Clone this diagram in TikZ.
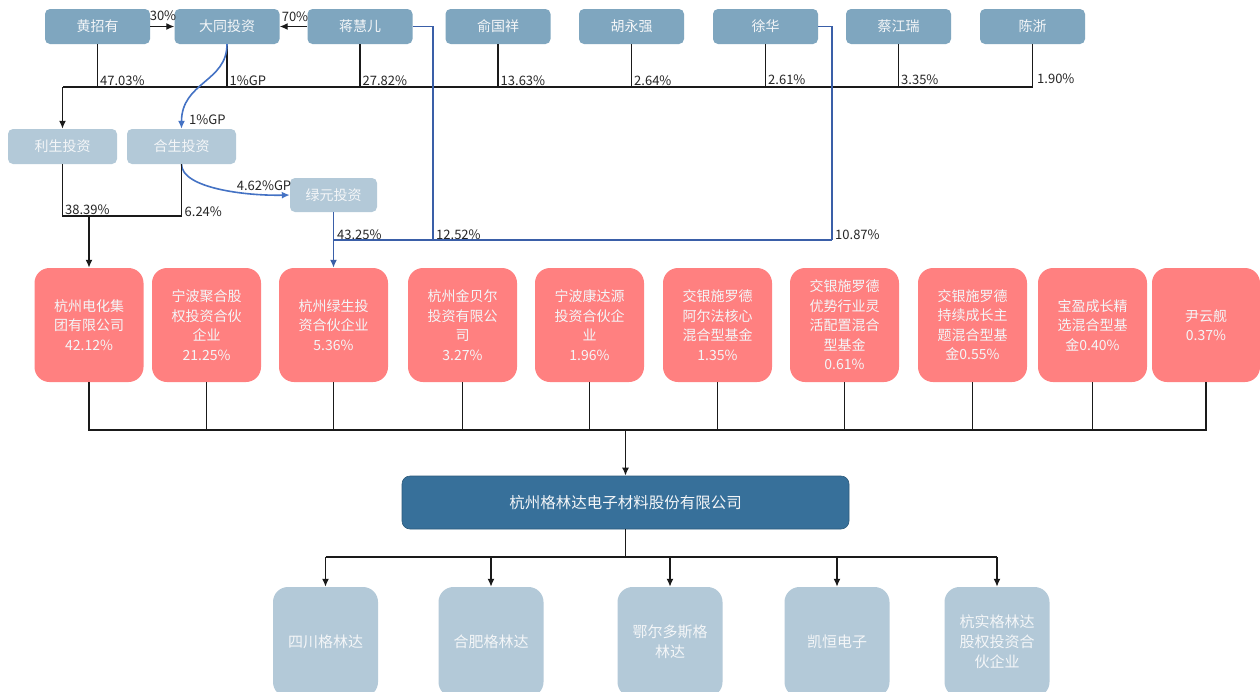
\documentclass[tikz,border=0pt]{standalone}
\usepackage{fontspec}
\setmainfont{Noto Sans CJK SC}
\usetikzlibrary{arrows.meta}
\definecolor{topbox}{HTML}{7FA6BF}
\definecolor{lightbox}{HTML}{B3C9D8}
\definecolor{redbox}{HTML}{FF8080}
\definecolor{mainbox}{HTML}{37709A}
\definecolor{arcblue}{HTML}{4472C4}
\definecolor{lineblue}{HTML}{3A5FA8}
\definecolor{linek}{HTML}{1A1A1A}
\definecolor{txtw}{HTML}{F4F6F8}
\tikzset{
  topnode/.style={draw=none,fill=topbox,rounded corners=5pt,minimum width=105pt,minimum height=35pt,inner sep=0pt,text=txtw,font=\fontsize{14}{16}\selectfont},
  secnode/.style={draw=none,fill=lightbox,rounded corners=5pt,minimum width=109pt,minimum height=35pt,inner sep=0pt,text=txtw,font=\fontsize{14}{16}\selectfont},
  rednode/.style={draw=none,fill=redbox,rounded corners=15pt,minimum width=109pt,minimum height=114pt,inner sep=0pt,text=txtw,align=center,font=\fontsize{14}{19.5}\selectfont},
  mainnode/.style={draw=mainbox!80!black,line width=0.6pt,fill=mainbox,rounded corners=8pt,minimum width=447pt,minimum height=53pt,inner sep=0pt,text=txtw,font=\fontsize{15.5}{18}\selectfont},
  subnode/.style={draw=none,fill=lightbox,rounded corners=15pt,minimum width=105pt,minimum height=110pt,inner sep=0pt,text=txtw,align=center,font=\fontsize{15}{20}\selectfont},
  kline/.style={draw=linek,line width=1.7pt},
  karrow/.style={kline,-{Latex[length=8pt,width=7pt]}},
  bline/.style={draw=lineblue,line width=1.4pt},
  barrow/.style={draw=arcblue,line width=1.6pt,-{Latex[length=8pt,width=7pt]}},
  pct/.style={inner sep=0pt,text=black!85,font=\fontsize{13}{14}\selectfont},
}
\begin{document}
\begin{tikzpicture}[x=1pt,y=-1pt]
\clip (0,0) rectangle (1260,691);
\fill[white] (0,0) rectangle (1260,691);
% top row
\node[topnode] (hzy) at (97.5,26.5) {黄招有};
\node[topnode] (dt) at (227,26.5) {大同投资};
\node[topnode] (jhe) at (360,26.5) {蒋慧儿};
\node[topnode] (ygx) at (498,26.5) {俞国祥};
\node[topnode] (hyq) at (631.5,26.5) {胡永强};
\node[topnode] (xh) at (765.5,26.5) {徐华};
\node[topnode] (cjr) at (898.5,26.5) {蔡江瑞};
\node[topnode] (cz) at (1032.5,26.5) {陈浙};
% second row
\node[secnode] (ls) at (62.5,146.5) {利生投资};
\node[secnode] (hs) at (181.5,146.5) {合生投资};
\node[secnode,minimum width=87pt,minimum height=34pt] (ly) at (333.5,195) {绿元投资};
% red row
\node[rednode] (r1) at (89,325) {杭州电化集\\团有限公司\\42.12\%};
\node[rednode] (r2) at (206.5,325) {宁波聚合股\\权投资合伙\\企业\\21.25\%};
\node[rednode] (r3) at (333.5,325) {杭州绿生投\\资合伙企业\\5.36\%};
\node[rednode] (r4) at (462.5,325) {杭州金贝尔\\投资有限公\\司\\3.27\%};
\node[rednode] (r5) at (589.5,325) {宁波康达源\\投资合伙企\\业\\1.96\%};
\node[rednode] (r6) at (717.5,325) {交银施罗德\\阿尔法核心\\混合型基金\\1.35\%};
\node[rednode] (r7) at (844.5,325) {交银施罗德\\优势行业灵\\活配置混合\\型基金\\0.61\%};
\node[rednode] (r8) at (972.5,325) {交银施罗德\\持续成长主\\题混合型基\\金0.55\%};
\node[rednode] (r9) at (1092.5,325) {宝盈成长精\\选混合型基\\金0.40\%};
\node[rednode,minimum width=108pt] (r10) at (1206,325) {尹云舰\\0.37\%};
% main company
\node[mainnode] (gld) at (625.5,502.5) {杭州格林达电子材料股份有限公司};
% subsidiaries
\node[subnode] (s1) at (325.5,642) {四川格林达};
\node[subnode] (s2) at (491,642) {合肥格林达};
\node[subnode] (s3) at (670,642) {鄂尔多斯格\\林达};
\node[subnode] (s4) at (837,642) {凯恒电子};
\node[subnode] (s5) at (997,642) {杭实格林达\\股权投资合\\伙企业};

% coordinates
\coordinate (busL) at (62.5,87);
\coordinate (j1) at (89,216);
\coordinate (b1) at (433,240);
\coordinate (b2) at (832,240);
\coordinate (b0) at (333.5,240);
\coordinate (rbus) at (625.5,430);
\coordinate (sbus) at (625.5,557);

% top arrows
\draw[karrow,line width=1.3pt] (hzy.east) -- (dt.west);
\draw[karrow,line width=1.3pt] (jhe.west) -- (dt.east);
\node[pct,anchor=south] at (163,21) {30\%};
\node[pct,anchor=south] at (295,22) {70\%};

% shareholder bus
\draw[kline] (cz.south) |- (busL);
\foreach \n in {hzy,dt,jhe,ygx,hyq,xh,cjr}{\draw[kline] (\n.south) -- (\n.south |- busL);}
\draw[karrow] (busL) -- (ls.north);
\node[pct,anchor=south west] at (100,86) {47.03\%};
\node[pct,anchor=south west] at (229.5,86) {1\%GP};
\node[pct,anchor=south west] at (362.5,86) {27.82\%};
\node[pct,anchor=south west] at (500.5,86) {13.63\%};
\node[pct,anchor=south west] at (634,86) {2.64\%};
\node[pct,anchor=south west] at (768,85) {2.61\%};
\node[pct,anchor=south west] at (901,85) {3.35\%};
\node[pct,anchor=west] at (1037,79) {1.90\%};

% blue curves
\draw[barrow] (dt.south) .. controls (227,82) and (181.5,82) .. (hs.north);
\node[pct,anchor=west] at (189,120) {1\%GP};
\draw[barrow] (hs.south) .. controls (181.5,188) and (245,196) .. (ly.west);
\node[pct,anchor=south] at (264,191) {4.62\%GP};

% lisheng/hesheng to dianhua
\draw[kline] (ls.south) |- (j1) -| (hs.south);
\draw[karrow] (j1) -- (r1.north);
\node[pct,anchor=south west] at (65,215) {38.39\%};
\node[pct,anchor=south west] at (184.5,217) {6.24\%};

% blue lines to lvsheng
\draw[bline] (jhe.east) -| (b1);
\draw[bline] (xh.east) -| (b2);
\draw[bline] (b0) -- (b2);
\draw[draw=lineblue,line width=1.6pt,-{Latex[length=8pt,width=7pt]}] (ly.south) -- (r3.north);
\node[pct,anchor=south west] at (337,240) {43.25\%};
\node[pct,anchor=south west] at (436,240) {12.52\%};
\node[pct,anchor=south west] at (835,240) {10.87\%};

% red bus
\draw[kline] (r1.south) |- (r10.south |- rbus) -- (r10.south);
\foreach \n in {r2,r3,r4,r5,r6,r7,r8,r9}{\draw[kline] (\n.south) -- (\n.south |- rbus);}
\draw[karrow] (rbus) -- (gld.north);

% subsidiaries bus
\draw[kline] (gld.south) -- (sbus);
\draw[kline] (s1.north |- sbus) -- (s5.north |- sbus);
\foreach \n in {s1,s2,s3,s4,s5}{\draw[karrow] (\n.north |- sbus) -- (\n.north);}
\end{tikzpicture}
\end{document}
